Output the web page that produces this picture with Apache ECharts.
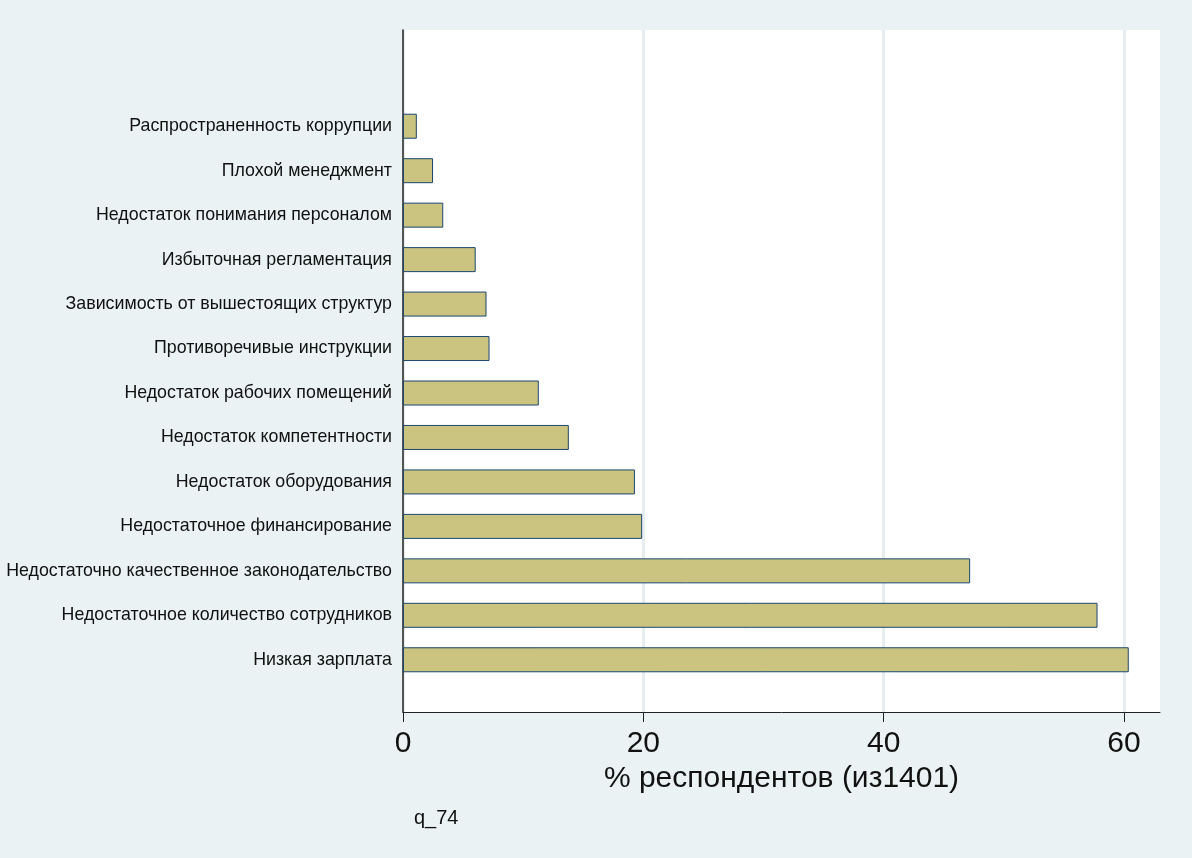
<!DOCTYPE html>
<html>
<head>
<meta charset="utf-8">
<script src="https://cdn.jsdelivr.net/npm/echarts@6/dist/echarts.min.js"></script>
<style>
html,body{margin:0;padding:0;background:#eaf2f3;}
#chart{width:1192px;height:858px;}
</style>
</head>
<body>
<div id="chart"></div>
<script>
// Categories (bottom to top)
var categories = [
  'Низкая зарплата',
  'Недостаточное количество сотрудников',
  'Недостаточно качественное законодательство',
  'Недостаточное финансирование',
  'Недостаток оборудования',
  'Недостаток компетентности',
  'Недостаток рабочих помещений',
  'Противоречивые инструкции',
  'Зависимость от вышестоящих структур',
  'Избыточная регламентация',
  'Недостаток понимания персоналом',
  'Плохой менеджмент',
  'Распространенность коррупции'
];
// % of respondents
var values = [60.4, 57.8, 47.2, 19.9, 19.3, 13.8, 11.3, 7.2, 6.95, 6.05, 3.35, 2.5, 1.15];
var xTicks = [0, 20, 40, 60];
var xTitle = '% респондентов (из1401)';
var note = 'q_74';

var FONT = '"Liberation Sans", Arial, sans-serif';
var chart = echarts.init(document.getElementById('chart'));
chart.setOption({
  backgroundColor: '#eaf2f3',
  animation: false,
  title: {
    text: note, left: 409, top: 803,
    textStyle: {fontFamily: FONT, fontSize: 20, fontWeight: 'normal', color: '#111'}
  },
  grid: [
    {left: 403, right: 32, top: 30, bottom: 146, show: true, backgroundColor: '#ffffff', borderWidth: 0},
    {left: 403, right: 32, top: 104, bottom: 176}
  ],
  xAxis: [
    {
      gridIndex: 0, type: 'value', min: 0, max: 63, interval: 20,
      name: xTitle, nameLocation: 'middle', nameGap: 45,
      nameTextStyle: {fontFamily: FONT, fontSize: 30, color: '#111'},
      axisLine: {show: true, lineStyle: {color: '#222', width: 1}},
      axisTick: {show: true, length: 10, customValues: xTicks, lineStyle: {color: '#222', width: 1}},
      axisLabel: {fontFamily: FONT, fontSize: 30, color: '#111', margin: 17, customValues: xTicks},
      splitLine: {show: true, lineStyle: {color: '#e6eef0', width: 3}}
    },
    {
      gridIndex: 1, type: 'value', min: 0, max: 63, show: false
    }
  ],
  yAxis: [
    {
      gridIndex: 0, type: 'value', min: 0, max: 1,
      axisLine: {show: true, lineStyle: {color: '#222', width: 1.5}},
      axisTick: {show: false}, axisLabel: {show: false}, splitLine: {show: false}
    },
    {
      gridIndex: 1, type: 'category', data: categories,
      axisLine: {show: false}, axisTick: {show: false}, splitLine: {show: false},
      axisLabel: {fontFamily: FONT, fontSize: 17.8, color: '#111', margin: 11}
    }
  ],
  series: [{
    type: 'bar', xAxisIndex: 1, yAxisIndex: 1, data: values,
    barWidth: 25,
    itemStyle: {color: '#cbc480', borderColor: '#1a476f', borderWidth: 1}
  }]
});
</script>
</body>
</html>
